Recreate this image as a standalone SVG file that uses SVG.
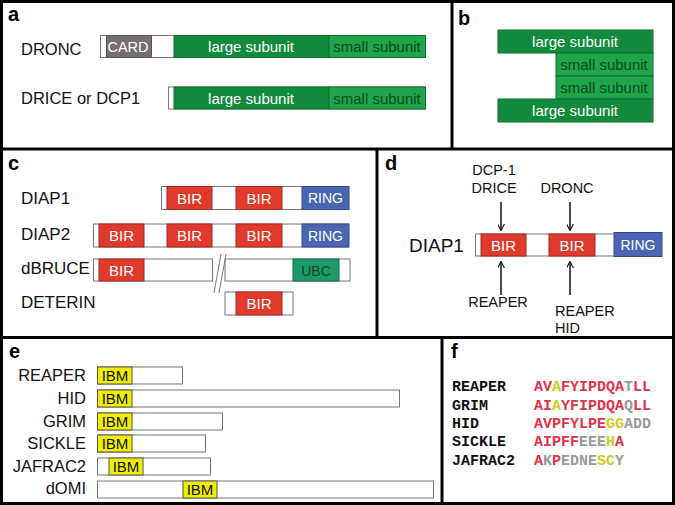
<svg xmlns="http://www.w3.org/2000/svg" width="675" height="505" viewBox="0 0 675 505">
<defs>
<style>
.lbl{font-family:"Liberation Sans",Arial,sans-serif;fill:#111}
.pl{font-family:"Liberation Sans",Arial,sans-serif;font-weight:bold;font-size:20px;fill:#000}
.frame{fill:none;stroke:#000;stroke-width:3}
.w{fill:#fff;stroke:#777;stroke-width:1}
.lg{fill:#128a3c;stroke:#0e6e30;stroke-width:1}
.sm{fill:#1ea54a;stroke:#0e6e30;stroke-width:1}
.card{fill:#776f6f;stroke:#555;stroke-width:1}
.bir{fill:#e03a2c;stroke:#a02a20;stroke-width:1}
.ring{fill:#4a66b2;stroke:#34488a;stroke-width:1}
.ubc{fill:#1a9a68;stroke:#137050;stroke-width:1}
.ibm{fill:#f0ee00;stroke:#555;stroke-width:1}
.wt{font-family:"Liberation Sans",Arial,sans-serif;fill:#fff;text-anchor:middle}
.dt{font-family:"Liberation Sans",Arial,sans-serif;fill:#0b4a1e;text-anchor:middle}
.seq{font-family:"Liberation Mono","Courier New",monospace;font-weight:bold;font-size:15px}
.r{fill:#e2334a}.y{fill:#cccc22}.g{fill:#9a9a9a}
.arr{stroke:#111;stroke-width:1.5;fill:none;marker-end:url(#ah)}
</style>
<marker id="ah" viewBox="0 0 10 10" refX="9" refY="5" markerWidth="7" markerHeight="7" orient="auto" markerUnits="userSpaceOnUse"><path d="M0,0 L10,5 L0,10" fill="none" stroke="#111" stroke-width="1.6"/></marker>
</defs>
<rect width="675" height="505" fill="#fff"/>

<!-- frame -->
<g id="frame" class="frame">
<rect x="1.5" y="1.5" width="672" height="502"/>
<line x1="1.5" y1="149" x2="673.5" y2="149"/>
<line x1="452" y1="1.5" x2="452" y2="149"/>
<line x1="1.5" y1="337.5" x2="673.5" y2="337.5"/>
<line x1="377" y1="149" x2="377" y2="337.5"/>
<line x1="442" y1="337.5" x2="442" y2="503.5"/>
</g>

<!-- panel a -->
<g id="panel-a">
<text class="pl" x="8" y="21">a</text>
<g id="dronc">
<text class="lbl" x="21" y="55" font-size="16.5">DRONC</text>
<rect class="w" x="100.5" y="35.5" width="325" height="22"/>
<rect class="card" x="106.5" y="35.5" width="45" height="22"/>
<rect class="lg" x="174" y="35.5" width="155" height="22"/>
<rect class="sm" x="329" y="35.5" width="96.5" height="22"/>
<text class="wt" x="128" y="52" font-size="14.5" fill="#eee">CARD</text>
<text class="wt" x="251" y="52" font-size="15">large subunit</text>
<text class="dt" x="377" y="52" font-size="15">small subunit</text>
</g>
<g id="drice">
<text class="lbl" x="21" y="104" font-size="16.5">DRICE or DCP1</text>
<rect class="w" x="168.5" y="87" width="257" height="22"/>
<rect class="lg" x="174" y="87" width="155" height="22"/>
<rect class="sm" x="329" y="87" width="96.5" height="22"/>
<text class="wt" x="251" y="103.5" font-size="15">large subunit</text>
<text class="dt" x="377" y="103.5" font-size="15">small subunit</text>
</g>
</g>

<!-- panel b -->
<g id="panel-b">
<text class="pl" x="458" y="25">b</text>
<g id="b-large1"><rect class="lg" x="498" y="30" width="155" height="23"/><text class="wt" x="575" y="47" font-size="15">large subunit</text></g>
<g id="b-small1"><rect class="sm" x="556" y="53" width="97" height="23"/><text class="dt" x="604" y="70" font-size="15">small subunit</text></g>
<g id="b-small2"><rect class="sm" x="556" y="76" width="97" height="23"/><text class="dt" x="604" y="93" font-size="15">small subunit</text></g>
<g id="b-large2"><rect class="lg" x="498" y="99" width="155" height="23"/><text class="wt" x="575" y="116" font-size="15">large subunit</text></g>
</g>

<!-- panel c -->
<g id="panel-c">
<text class="pl" x="8" y="170">c</text>
<g id="c-diap1">
<text class="lbl" x="21" y="204" font-size="17">DIAP1</text>
<rect class="w" x="161.5" y="186.5" width="187" height="23"/>
<rect class="bir" x="167" y="186.5" width="45" height="23"/>
<rect class="bir" x="236" y="186.5" width="46" height="23"/>
<rect class="ring" x="302" y="186.5" width="47" height="23"/>
<text class="wt" x="189.5" y="203.5" font-size="15">BIR</text>
<text class="wt" x="259" y="203.5" font-size="15">BIR</text>
<text class="wt" x="325.5" y="203" font-size="14">RING</text>
</g>
<g id="c-diap2">
<text class="lbl" x="21" y="240" font-size="17">DIAP2</text>
<rect class="w" x="93.5" y="224" width="255" height="23"/>
<rect class="bir" x="99" y="224" width="45" height="23"/>
<rect class="bir" x="167" y="224" width="45" height="23"/>
<rect class="bir" x="236" y="224" width="46" height="23"/>
<rect class="ring" x="302" y="224" width="47" height="23"/>
<text class="wt" x="121.5" y="241" font-size="15">BIR</text>
<text class="wt" x="189.5" y="241" font-size="15">BIR</text>
<text class="wt" x="259" y="241" font-size="15">BIR</text>
<text class="wt" x="325.5" y="240.5" font-size="14">RING</text>
</g>
<g id="c-dbruce">
<text class="lbl" x="21" y="274" font-size="17">dBRUCE</text>
<rect class="w" x="93.5" y="259" width="119" height="22"/>
<rect class="bir" x="99" y="259" width="45" height="22"/>
<rect class="w" x="225" y="259" width="125" height="22"/>
<rect class="ubc" x="293" y="259" width="46" height="22"/>
<text class="wt" x="121.5" y="275.5" font-size="15">BIR</text>
<text class="dt" x="316" y="275.5" font-size="14" fill="#0d3d28">UBC</text>
<line x1="214" y1="293" x2="221" y2="254" stroke="#777" stroke-width="1"/>
<line x1="219" y1="293" x2="226" y2="254" stroke="#777" stroke-width="1"/>
</g>
<g id="c-deterin">
<text class="lbl" x="21" y="308" font-size="17">DETERIN</text>
<rect class="w" x="225" y="292" width="68" height="23"/>
<rect class="bir" x="236" y="292" width="46" height="23"/>
<text class="wt" x="259" y="309" font-size="15">BIR</text>
</g>
</g>

<!-- panel d -->
<g id="panel-d">
<text class="pl" x="385" y="170">d</text>
<g id="d-diap1">
<text class="lbl" x="409" y="252" font-size="19">DIAP1</text>
<rect class="w" x="475.5" y="234" width="186" height="22"/>
<rect class="bir" x="481" y="234" width="45" height="22"/>
<rect class="bir" x="549" y="234" width="46" height="22"/>
<rect class="ring" x="614" y="232.5" width="48" height="24"/>
<text class="wt" x="503.5" y="250.5" font-size="15">BIR</text>
<text class="wt" x="572" y="250.5" font-size="15">BIR</text>
<text class="wt" x="638" y="250" font-size="14">RING</text>
</g>
<g id="d-labels" class="lbl" font-size="14.5" text-anchor="middle">
<text x="494" y="175">DCP-1</text>
<text x="494" y="193">DRICE</text>
<text x="567" y="193">DRONC</text>
<text x="498" y="307">REAPER</text>
<text x="555" y="316" text-anchor="start">REAPER</text>
<text x="555" y="333" text-anchor="start">HID</text>
</g>
</g>

<g id="connectors">
<line class="arr" x1="501" y1="202" x2="501" y2="230"/>
<line class="arr" x1="570" y1="202" x2="570" y2="230"/>
<line class="arr" x1="501" y1="295" x2="501" y2="262"/>
<line class="arr" x1="570" y1="295" x2="570" y2="262"/>
</g>

<!-- panel e -->
<g id="panel-e">
<text class="pl" x="9" y="358">e</text>
<g class="lbl" font-size="16.5" text-anchor="end">
<text x="86" y="381">REAPER</text>
<text x="86" y="404">HID</text>
<text x="86" y="427">GRIM</text>
<text x="86" y="449">SICKLE</text>
<text x="86" y="472">JAFRAC2</text>
<text x="86" y="494">dOMI</text>
</g>
<g id="e-reaper"><rect class="w" x="97.5" y="367" width="85" height="17"/><rect class="ibm" x="97.5" y="367" width="34.5" height="17"/><text class="lbl" x="115" y="381" font-size="15" text-anchor="middle">IBM</text></g>
<g id="e-hid"><rect class="w" x="97.5" y="390" width="302" height="17"/><rect class="ibm" x="97.5" y="390" width="34.5" height="17"/><text class="lbl" x="115" y="404" font-size="15" text-anchor="middle">IBM</text></g>
<g id="e-grim"><rect class="w" x="97.5" y="413" width="125" height="17"/><rect class="ibm" x="97.5" y="413" width="34.5" height="17"/><text class="lbl" x="115" y="427" font-size="15" text-anchor="middle">IBM</text></g>
<g id="e-sickle"><rect class="w" x="97.5" y="435" width="108" height="17"/><rect class="ibm" x="97.5" y="435" width="34.5" height="17"/><text class="lbl" x="115" y="449" font-size="15" text-anchor="middle">IBM</text></g>
<g id="e-jafrac2"><rect class="w" x="97.5" y="458" width="113" height="17"/><rect class="ibm" x="109" y="458" width="34" height="17"/><text class="lbl" x="126" y="472" font-size="15" text-anchor="middle">IBM</text></g>
<g id="e-domi"><rect class="w" x="97.5" y="481" width="336" height="17"/><rect class="ibm" x="183" y="481" width="34" height="17"/><text class="lbl" x="200" y="495" font-size="15" text-anchor="middle">IBM</text></g>
</g>

<!-- panel f -->
<g id="panel-f">
<text class="pl" x="451" y="358">f</text>
<g class="seq" fill="#111">
<text x="452" y="391">REAPER</text>
<text x="452" y="409.5">GRIM</text>
<text x="452" y="428">HID</text>
<text x="452" y="446">SICKLE</text>
<text x="452" y="464.5">JAFRAC2</text>
</g>
<g class="seq">
<text x="534" y="391"><tspan class="r">AV</tspan><tspan class="y">A</tspan><tspan class="r">FYIPDQA</tspan><tspan class="g">T</tspan><tspan class="r">LL</tspan></text>
<text x="534" y="409.5"><tspan class="r">AI</tspan><tspan class="y">A</tspan><tspan class="r">YFIPDQA</tspan><tspan class="g">Q</tspan><tspan class="r">LL</tspan></text>
<text x="534" y="428"><tspan class="r">AVPFYLPE</tspan><tspan class="y">GG</tspan><tspan class="g">ADD</tspan></text>
<text x="534" y="446"><tspan class="r">AIPFF</tspan><tspan class="g">EEE</tspan><tspan class="y">H</tspan><tspan class="r">A</tspan></text>
<text x="534" y="464.5"><tspan class="r">A</tspan><tspan class="g">K</tspan><tspan class="r">P</tspan><tspan class="g">EDNE</tspan><tspan class="y">SC</tspan><tspan class="g">Y</tspan></text>
</g>
</g>
</svg>
